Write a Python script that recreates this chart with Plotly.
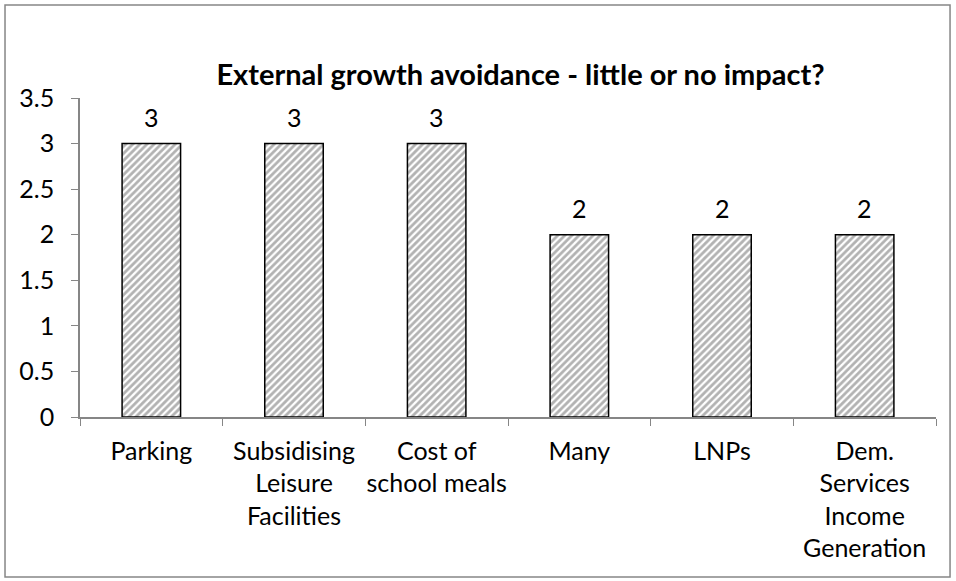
import plotly.graph_objects as go

categories = ["Parking", "Subsidising<br>Leisure<br>Facilities", "Cost of<br>school meals",
              "Many", "LNPs", "Dem.<br>Services<br>Income<br>Generation"]
values = [3, 3, 3, 2, 2, 2]
y_ticks = [0, 0.5, 1, 1.5, 2, 2.5, 3, 3.5]
y_tick_labels = ["0", "0.5", "1", "1.5", "2", "2.5", "3", "3.5"]
title = "External growth avoidance - little or no impact?"

FONT = "Lato"
TS = 25

fig = go.Figure(go.Bar(
    x=categories, y=values,
    width=0.41,
    marker=dict(color="white",
                line=dict(color="black", width=1.5),
                pattern=dict(shape="/", fgcolor="#666666", bgcolor="white",
                             size=5, solidity=0.55)),
))

for c, v in zip(categories, values):
    fig.add_annotation(x=c, y=v, xref="x", yref="y", text=str(v), showarrow=False,
                       yanchor="bottom", yshift=10,
                       font=dict(family=FONT, size=TS, color="black"))

fig.update_layout(
    width=956, height=581,
    margin=dict(l=80, r=20, t=98, b=164, autoexpand=False),
    paper_bgcolor="white", plot_bgcolor="white",
    showlegend=False,
    title=dict(text="<b>" + title + "</b>", x=0.5445, xanchor="center",
               y=1 - 75 / 581, yanchor="middle",
               font=dict(family=FONT, size=29, color="black")),
    font=dict(family=FONT, size=TS, color="black"),
    xaxis=dict(showline=True, linecolor="#868686", linewidth=1.5,
               ticks="outside", tickson="boundaries", ticklen=7, tickcolor="#868686",
               tickfont=dict(family=FONT, size=TS, color="black"),
               tickangle=0, automargin=False,
               ticklabelstandoff=11,
               showgrid=False),
    yaxis=dict(range=[0, 3.5], tickvals=y_ticks, ticktext=y_tick_labels,
               showline=True, linecolor="#868686", linewidth=1.5,
               ticks="outside", ticklen=7, tickcolor="#868686",
               tickfont=dict(family=FONT, size=TS, color="black"),
               automargin=False,
               ticklabelstandoff=12,
               showgrid=False, zeroline=False),
    shapes=[dict(type="rect", xref="paper", yref="paper",
                 x0=-0.0876, x1=1.0164, y0=-0.5016, y1=1.2915,
                 line=dict(color="#868686", width=1.5), fillcolor="rgba(0,0,0,0)")],
)

fig.write_html("out.html", config={"displayModeBar": False},
               post_script="document.body.style.margin='0';")
